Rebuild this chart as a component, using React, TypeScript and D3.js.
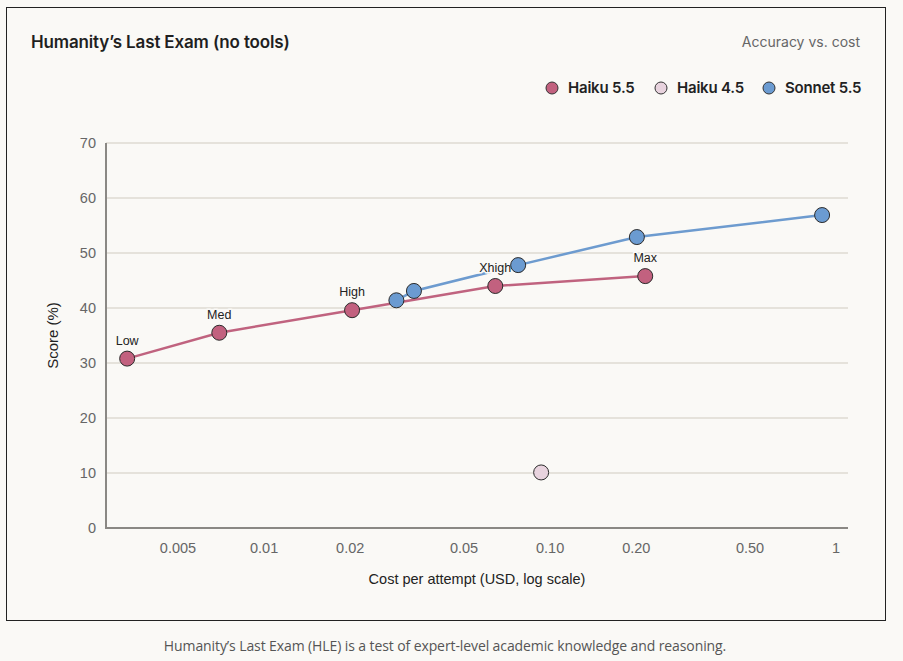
import React from "react";
import * as d3 from "d3";

const haiku55Cost = [0.00332, 0.00697, 0.0203, 0.0643, 0.215];
const haiku55Score = [30.8, 35.5, 39.6, 44.0, 45.8];
const haiku55Labels = ["Low", "Med", "High", "Xhigh", "Max"];
const haiku45Cost = [0.093];
const haiku45Score = [10.1];
const sonnet55Cost = [0.029, 0.0334, 0.0773, 0.201, 0.893];
const sonnet55Score = [41.4, 43.1, 47.8, 52.9, 56.9];
const xTicks = [0.005, 0.01, 0.02, 0.05, 0.1, 0.2, 0.5, 1];
const xTickLabels = ["0.005", "0.01", "0.02", "0.05", "0.10", "0.20", "0.50", "1"];
const yTicks = [0, 10, 20, 30, 40, 50, 60, 70];
const legendNames = ["Haiku 5.5", "Haiku 4.5", "Sonnet 5.5"];

const W = 903, H = 661;
const BG = "#faf9f6";
const PINK = "#c2617f";
const PINK_LINE = "#c0637f";
const LIGHT = "#e8d3de";
const BLUE = "#6b9bd1";
const BLUE_LINE = "#6d9bcf";
const FONT = "'Open Sans', 'Noto Sans', sans-serif";
const HEAD = "Inter, 'Open Sans', sans-serif";
const ARIAL = "'Liberation Sans', Arial, sans-serif";

export default function App() {
  if (typeof document !== "undefined") {
    document.body.style.margin = "0";
    document.body.style.background = BG;
  }
  const left = 106, right = 848, top = 143, bottom = 528;
  const x = d3.scaleLog().domain([0.0028, 1.1]).range([left, right]);
  const y = d3.scaleLinear().domain([0, 70]).range([bottom, top]);
  const line = d3.line<[number, number]>().x(d => x(d[0])).y(d => y(d[1]));
  const h55 = haiku55Cost.map((c, i) => [c, haiku55Score[i]] as [number, number]);
  const s55 = sonnet55Cost.map((c, i) => [c, sonnet55Score[i]] as [number, number]);
  const h45 = haiku45Cost.map((c, i) => [c, haiku45Score[i]] as [number, number]);

  const legendColors = [PINK, LIGHT, BLUE];
  const legendX = [552, 661, 769];

  return (
    <svg width={W} height={H} style={{ position: "absolute", left: 0, top: 0, background: BG }}>
      <rect x={0} y={0} width={W} height={H} fill={BG} />
      <rect x={6.5} y={7.5} width={879} height={613} fill={BG} stroke="#222" strokeWidth={1} />
      <text x={31} y={48} fontFamily={HEAD} fontSize={17} fontWeight={600} fill="#1f1f1f" letterSpacing={-0.15}>
        Humanity’s Last Exam (no tools)
      </text>
      <text x={860} y={47} textAnchor="end" fontFamily={HEAD} fontSize={14} fill="#666">
        Accuracy vs. cost
      </text>
      {legendNames.map((n, i) => (
        <g key={n}>
          <circle cx={legendX[i]} cy={88} r={6} fill={legendColors[i]} stroke="#333" strokeWidth={1} />
          <text x={legendX[i] + 16} y={93} fontFamily={HEAD} fontSize={15} fontWeight={600} fill="#222" letterSpacing={-0.2}>
            {n}
          </text>
        </g>
      ))}
      {yTicks.map(t => (
        <g key={t}>
          {t > 0 && <line x1={left} x2={right} y1={y(t)} y2={y(t)} stroke="#e5e2db" strokeWidth={2} />}
          <text x={96} y={y(t) + 5} textAnchor="end" fontFamily={ARIAL} fontSize={14.5} fill="#666">
            {t}
          </text>
        </g>
      ))}
      <line x1={left} x2={left} y1={top} y2={bottom + 1} stroke="#8a8884" strokeWidth={2} />
      <line x1={left} x2={right} y1={bottom} y2={bottom} stroke="#8a8884" strokeWidth={2} />
      {xTicks.map((t, i) => (
        <text key={t} x={x(t)} y={553} textAnchor="middle" fontFamily={ARIAL} fontSize={14.5} fill="#666">
          {xTickLabels[i]}
        </text>
      ))}
      <text x={(left + right) / 2} y={584} textAnchor="middle" fontFamily={ARIAL} fontSize={14.5} fill="#222">
        Cost per attempt (USD, log scale)
      </text>
      <text transform={`translate(58,${(top + bottom) / 2}) rotate(-90)`} textAnchor="middle" fontFamily={ARIAL} fontSize={15} fill="#222">
        Score (%)
      </text>
      <path d={line(h55) || ""} fill="none" stroke={PINK_LINE} strokeWidth={2.5} />
      <path d={line(s55) || ""} fill="none" stroke={BLUE_LINE} strokeWidth={2.5} />
      {h55.map((d, i) => (
        <text key={"l" + i} x={x(d[0])} y={y(d[1]) - 14} textAnchor="middle" fontFamily={ARIAL} fontSize={12.5} fill="#222"
          stroke={BG} strokeWidth={3} paintOrder="stroke">
          {haiku55Labels[i]}
        </text>
      ))}
      {s55.map((d, i) => (
        <circle key={"s" + i} cx={x(d[0])} cy={y(d[1])} r={7.5} fill={BLUE} stroke="#2b2b2b" strokeWidth={1} />
      ))}
      {h55.map((d, i) => (
        <circle key={"h" + i} cx={x(d[0])} cy={y(d[1])} r={7.5} fill={PINK} stroke="#2b2b2b" strokeWidth={1} />
      ))}
      {h45.map((d, i) => (
        <circle key={"o" + i} cx={x(d[0])} cy={y(d[1])} r={7.5} fill={LIGHT} stroke="#2b2b2b" strokeWidth={1} />
      ))}
      <text x={445} y={651} textAnchor="middle" fontFamily={FONT} fontSize={14} fill="#555" letterSpacing={-0.1}>
        Humanity’s Last Exam (HLE) is a test of expert-level academic knowledge and reasoning.
      </text>
    </svg>
  );
}
